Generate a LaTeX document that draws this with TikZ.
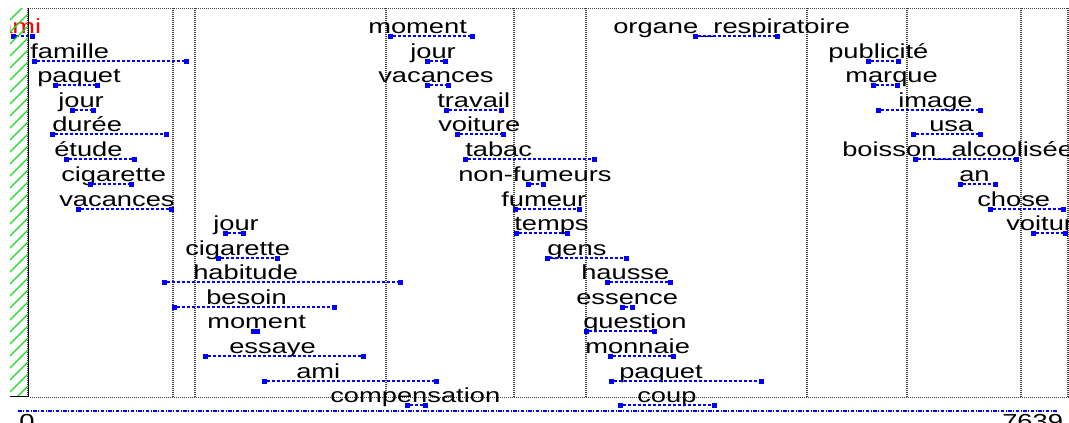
\documentclass[tikz,border=0pt]{standalone}
\usepackage{fontspec}
\setmainfont{Liberation Sans}
\definecolor{hatchg}{RGB}{30,220,30}
\newcommand\wrd[7][black]{%
  \node[word, text=#1, anchor=base west] (t#2) at (#4,#5-2.5) {#3};
  \node[endmk] (a#2) at (#6,#5) {};
  \node[endmk] (b#2) at (#7,#5) {};
  \draw[link] (a#2) -- (b#2);
}
\begin{document}
\begin{tikzpicture}[x=1pt,y=-1pt,
  word/.style={inner sep=0pt, font=\fontsize{20.3}{21}\selectfont, xscale=1.345},
  endmk/.style={rectangle, draw=blue, fill=blue, minimum size=4.5pt, inner sep=0pt, line width=0.5pt},
  link/.style={blue, dash pattern=on 3.5pt off 1.5pt, line width=1.2pt},
  vsep/.style={black!75, line width=0.6pt, dash pattern=on 1pt off 1pt},
  hsep/.style={black!75, line width=0.7pt, dash pattern=on 1pt off 1pt}]
\useasboundingbox (0,0) rectangle (1069,423);
\clip (0,0) rectangle (1069,423);
\fill[white] (0,0) rectangle (1069,423);
% frame lines
\draw[hsep] (30,8) -- (1069,8);
\draw[hsep] (30,397) -- (1069,397);
\foreach \x in {27,172,194,385,513,585,806,906,1020,1067}{
  \draw[vsep] (\x,8) -- (\x,397);
  \draw[vsep] (\x+1.4,8) -- (\x+1.4,397);
}
% column 1
\wrd[red]{c1a}{ami}{-3}{36}{13}{32}
\wrd{c1b}{famille}{30}{61}{34}{186}
\wrd{c1c}{paquet}{37}{85}{55}{97}
\wrd{c1d}{jour}{58}{110}{72}{93}
\wrd{c1e}{durée}{52}{134}{52}{166}
\wrd{c1f}{étude}{54}{159}{66}{134}
\wrd{c1g}{cigarette}{61}{184}{90}{131}
\wrd{c1h}{vacances}{59}{209}{78}{171}
\wrd{c1i}{jour}{213}{233}{225}{243}
\wrd{c1j}{cigarette}{185}{258}{218}{277}
\wrd{c1k}{habitude}{193}{282}{164}{400}
\wrd{c1l}{besoin}{206}{307}{174}{334}
\wrd{c1m}{moment}{207}{331}{253}{257}
\wrd{c1n}{essaye}{229}{356}{205}{363}
\wrd{c1o}{ami}{296}{381}{264}{436}
\wrd{c1p}{compensation}{330}{405}{407}{425}
% column 2
\wrd{c2a}{moment}{368}{36}{390}{472}
\wrd{c2b}{jour}{410}{61}{427}{445}
\wrd{c2c}{vacances}{378}{85}{427}{448}
\wrd{c2d}{travail}{437}{110}{446}{501}
\wrd{c2e}{voiture}{438}{134}{457}{503}
\wrd{c2f}{tabac}{465}{159}{465}{594}
\wrd{c2g}{non-fumeurs}{458}{184}{528}{543}
\wrd{c2h}{fumeur}{501}{209}{515}{579}
\wrd{c2i}{temps}{514}{233}{516}{567}
\wrd{c2j}{gens}{547}{258}{547}{626}
\wrd{c2k}{hausse}{581}{282}{607}{670}
\wrd{c2l}{essence}{576}{307}{622}{632}
\wrd{c2m}{question}{583}{331}{586}{654}
\wrd{c2n}{monnaie}{585}{356}{610}{673}
\wrd{c2o}{paquet}{619}{381}{611}{761}
\wrd{c2p}{coup}{637}{405}{620}{714}
% column 3
\wrd{c3a}{organe\_respiratoire}{613}{36}{695}{777}
\wrd{c3b}{publicité}{828}{61}{868}{898}
\wrd{c3c}{marque}{845}{85}{873}{897}
\wrd{c3d}{image}{898}{110}{878}{980}
\wrd{c3e}{usa}{929}{134}{913}{980}
\wrd{c3f}{boisson\_alcoolisée}{842}{159}{915}{1016}
\wrd{c3g}{an}{959}{184}{960}{995}
\wrd{c3h}{chose}{977}{209}{990}{1063}
\wrd{c3i}{voiture}{1006}{233}{1033}{1065}
% left hatched margin
\fill[white] (0,8) rectangle (10,396);
\begin{scope}
  \clip (10,8) rectangle (28,396);
  \foreach \k in {0,...,36}
    \draw[hatchg, line width=1.1pt] (10,20+\k*12) -- (40,-10+\k*12);
\end{scope}
\draw[black, line width=0.9pt] (28.5,8) -- (28.5,396.5) -- (10,396.5);
% axis
\coordinate (axL) at (18,411);
\coordinate (axR) at (1058,411);
\draw[blue, line width=1.1pt, dash pattern=on 3.5pt off 1.5pt on 1pt off 1.5pt] (axL) -- (axR);
\node[word, anchor=base west] (ax0) at (19,428) {0};
\node[word, anchor=base west] (ax1) at (1002,428) {7639};
\end{tikzpicture}
\end{document}
